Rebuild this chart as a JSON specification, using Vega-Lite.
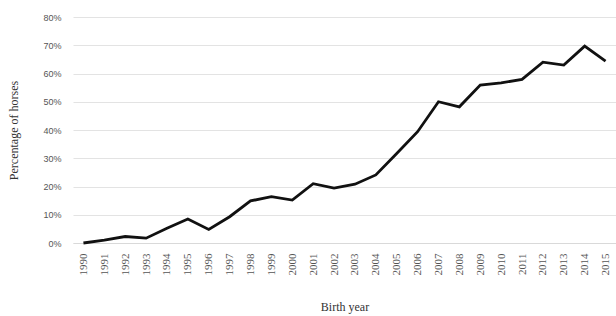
{
  "$schema": "https://vega.github.io/schema/vega-lite/v6.json",
  "autosize": "none",
  "width": 543,
  "height": 226,
  "padding": {"left": 73, "top": 17, "right": 0, "bottom": 73},
  "background": "white",
  "config": {"view": {"stroke": null}, "font": "Liberation Serif"},
  "data": {"values": [
    {"year": "1990", "pct": 0.0},
    {"year": "1991", "pct": 0.010},
    {"year": "1992", "pct": 0.023},
    {"year": "1993", "pct": 0.017},
    {"year": "1994", "pct": 0.052},
    {"year": "1995", "pct": 0.085},
    {"year": "1996", "pct": 0.048},
    {"year": "1997", "pct": 0.093},
    {"year": "1998", "pct": 0.149},
    {"year": "1999", "pct": 0.164},
    {"year": "2000", "pct": 0.152},
    {"year": "2001", "pct": 0.210},
    {"year": "2002", "pct": 0.194},
    {"year": "2003", "pct": 0.208},
    {"year": "2004", "pct": 0.241},
    {"year": "2005", "pct": 0.317},
    {"year": "2006", "pct": 0.394},
    {"year": "2007", "pct": 0.500},
    {"year": "2008", "pct": 0.482},
    {"year": "2009", "pct": 0.559},
    {"year": "2010", "pct": 0.567},
    {"year": "2011", "pct": 0.579},
    {"year": "2012", "pct": 0.640},
    {"year": "2013", "pct": 0.630},
    {"year": "2014", "pct": 0.697},
    {"year": "2015", "pct": 0.644}
  ]},
  "mark": {"type": "line", "color": "#111111", "strokeWidth": 2.8, "strokeJoin": "miter"},
  "encoding": {
    "x": {
      "field": "year", "type": "ordinal",
      "scale": {"type": "point", "padding": 0.5},
      "axis": {
        "title": "Birth year", "titleFont": "Liberation Serif", "titleFontSize": 12, "titleFontWeight": "normal",
        "titleColor": "#333333", "titlePadding": 26,
        "labelAngle": -90, "labelFont": "Liberation Serif", "labelFontSize": 11, "labelColor": "#555555", "labelPadding": 10,
        "ticks": false, "domain": true, "domainColor": "#d9d9d9", "domainWidth": 1, "grid": false
      }
    },
    "y": {
      "field": "pct", "type": "quantitative",
      "scale": {"domain": [0, 0.8], "nice": false},
      "axis": {
        "title": "Percentage of horses", "titleFont": "Liberation Serif", "titleFontSize": 12, "titleFontWeight": "normal",
        "titleColor": "#333333", "titlePadding": 22,
        "format": ".0%", "values": [0, 0.1, 0.2, 0.3, 0.4, 0.5, 0.6, 0.7, 0.8],
        "labelFont": "Liberation Sans", "labelFontSize": 9, "labelColor": "#555555", "labelPadding": 12,
        "ticks": false, "domain": false, "grid": true, "gridColor": "#e3e3e3", "gridWidth": 1
      }
    }
  }
}
